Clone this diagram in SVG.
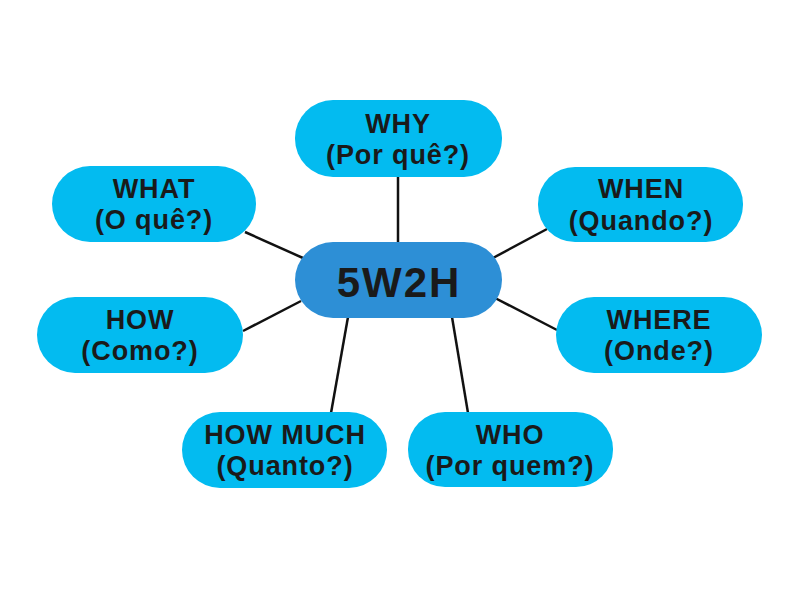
<svg xmlns="http://www.w3.org/2000/svg" width="800" height="600" viewBox="0 0 800 600">
<style>
.leaf{fill:#03bbf0}
.hub{fill:#2d8fd6}
.t{font-family:"Liberation Sans",Arial,sans-serif;font-weight:bold;font-size:27px;fill:#1a1a1a;text-anchor:middle;letter-spacing:0.9px}
.c{font-family:"Liberation Sans",Arial,sans-serif;font-weight:bold;font-size:42px;fill:#1a1a1a;text-anchor:middle;letter-spacing:2px}
.ln{stroke:#111;stroke-width:2.5;fill:none}
</style>
<rect width="800" height="600" fill="#ffffff"/>
<g id="connectors">
<line class="ln" x1="398" y1="176" x2="398" y2="243"/>
<line class="ln" x1="245" y1="232" x2="303" y2="258"/>
<line class="ln" x1="547" y1="229" x2="493" y2="258"/>
<line class="ln" x1="243" y1="331" x2="301" y2="301"/>
<line class="ln" x1="557" y1="330" x2="495" y2="298"/>
<line class="ln" x1="348" y1="317" x2="331" y2="413"/>
<line class="ln" x1="452" y1="317" x2="468" y2="413"/>
</g>
<g id="center">
<rect class="hub" x="295" y="242" width="207" height="76" rx="38"/>
<text class="c" x="399" y="297">5W2H</text>
</g>
<g id="why">
<rect class="leaf" x="295" y="100" width="207" height="77" rx="38"/>
<text class="t" x="398" y="133">WHY</text>
<text class="t" x="398" y="164">(Por quê?)</text>
</g>
<g id="what">
<rect class="leaf" x="52" y="166" width="204" height="76" rx="38"/>
<text class="t" x="154" y="198">WHAT</text>
<text class="t" x="154" y="229">(O quê?)</text>
</g>
<g id="when">
<rect class="leaf" x="538" y="167" width="205" height="75" rx="37"/>
<text class="t" x="641" y="198">WHEN</text>
<text class="t" x="641" y="230">(Quando?)</text>
</g>
<g id="how">
<rect class="leaf" x="37" y="297" width="206" height="76" rx="38"/>
<text class="t" x="140" y="329">HOW</text>
<text class="t" x="140" y="360">(Como?)</text>
</g>
<g id="where">
<rect class="leaf" x="556" y="297" width="206" height="76" rx="38"/>
<text class="t" x="659" y="329">WHERE</text>
<text class="t" x="659" y="360">(Onde?)</text>
</g>
<g id="howmuch">
<rect class="leaf" x="182" y="412" width="205" height="76" rx="38"/>
<text class="t" x="285" y="444">HOW MUCH</text>
<text class="t" x="285" y="475">(Quanto?)</text>
</g>
<g id="who">
<rect class="leaf" x="408" y="412" width="205" height="75" rx="37"/>
<text class="t" x="510" y="444">WHO</text>
<text class="t" x="510" y="475">(Por quem?)</text>
</g>
</svg>
